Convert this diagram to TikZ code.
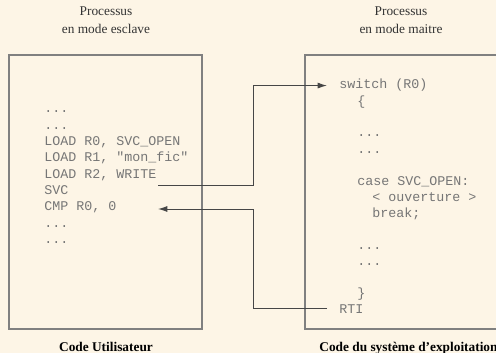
\documentclass[tikz,border=0pt]{standalone}
\usepackage{fontspec}
\setmainfont{Liberation Serif}
\setmonofont{Liberation Mono}
\usetikzlibrary{arrows.meta}

\definecolor{fond}{RGB}{253,245,230}
\definecolor{cadregris}{RGB}{128,128,128}
\definecolor{codegris}{RGB}{118,118,118}
\definecolor{filgris}{RGB}{70,70,70}
\newcommand\pts{...}

\begin{document}
\begin{tikzpicture}[x=0.75pt,y=-0.75pt,
  ligne/.style={anchor=base west,inner sep=0pt,text=codegris,
    font=\ttfamily\fontsize{10}{12}\selectfont},
  titre/.style={anchor=base,inner sep=0pt,text=black!80,
    font=\fontsize{10}{12}\selectfont},
  legende/.style={anchor=base,inner sep=0pt,
    font=\bfseries\fontsize{10}{12}\selectfont},
  cadre/.style={draw=cadregris,line width=1.5pt},
  fleche/.style={draw=filgris,line width=0.75pt,-{Latex[length=7pt,width=4.5pt]}}]

  \fill[fond] (0,0) rectangle (496,353);
  \useasboundingbox (0,0) rectangle (496,353);
  \clip (0,0) rectangle (496,353);

  % Titres des deux processus
  \node[titre] (tesclave) at (106,16) {Processus};
  \node[titre] (mesclave) at (106,33.5) {en mode esclave};
  \node[titre] (tmaitre) at (401,16) {Processus};
  \node[titre] (mmaitre) at (401,33.5) {en mode maitre};

  % Cadres
  \draw[cadre] (9,55.5) rectangle (202,329);
  \draw[cadre] (305,55.5) rectangle (530,329);

  % Code utilisateur
  \foreach \txt [count=\k] in {\pts, \pts, {LOAD R0, SVC\_OPEN},
      {LOAD R1, "mon\_fic"}, {LOAD R2, WRITE}, SVC, {CMP R0, 0}, \pts, \pts} {
    \node[ligne] (u\k) at (44,{113+16.3*(\k-1)}) {\txt};
  }

  % Code du systeme
  \foreach \x/\k/\txt/\nom in {339/0/{switch (R0)}/sw, 357/1/\{/acc,
      357/3/\pts/p1, 357/4/\pts/p2, 357/6/{case SVC\_OPEN:}/cas,
      372/7/{< ouverture >}/ouv, 372/8/{break;}/brk, 357/10/\pts/p3,
      357/11/\pts/p4, 357/13/\}/acf, 339/14/RTI/rti} {
    \node[ligne] (\nom) at (\x,{89+16*\k}) {\txt};
  }

  % Appel et retour
  \coordinate (depart) at (158,185);
  \coordinate (retour) at (158,209);
  \coordinate (coude) at (253,0);
  \draw[fleche,shorten >=9pt] (depart) -- (depart -| coude) |- (sw);
  \draw[fleche,shorten <=9pt] (rti) -| (coude |- retour) -- (retour);

  % Legendes
  \node[legende] (lutil) at (106,351) {Code Utilisateur};
  \node[legende] (lsys) at (408.5,351) {Code du système d'exploitation};
\end{tikzpicture}
\end{document}
